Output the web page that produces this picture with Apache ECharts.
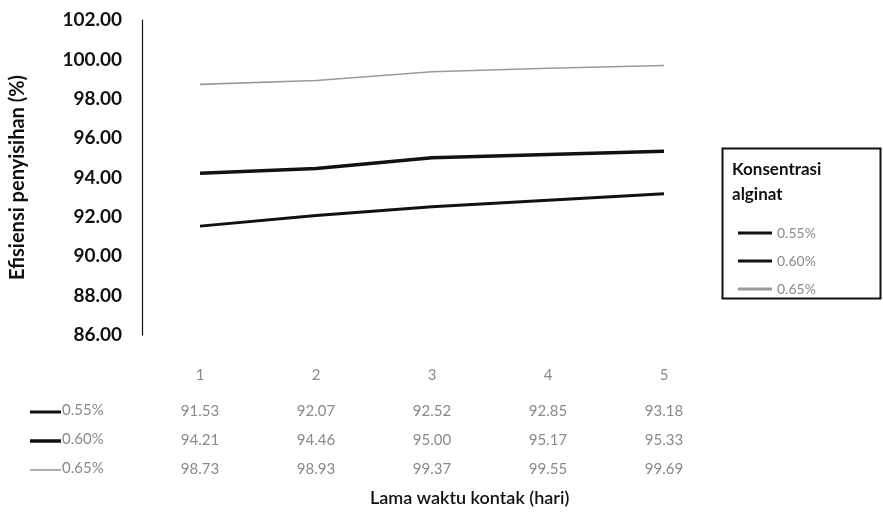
<!DOCTYPE html>
<html>
<head>
<meta charset="utf-8">
<script src="https://cdn.jsdelivr.net/npm/echarts@6/dist/echarts.min.js"></script>
<style>
  html, body { margin: 0; padding: 0; background: #fff; }
  #chart { width: 883px; height: 518px; }
</style>
</head>
<body>
<div id="chart"></div>
<script>
// Contact time (days) and removal efficiency (%) per alginate concentration
const categories = ['1', '2', '3', '4', '5'];
const seriesNames = ['0.55%', '0.60%', '0.65%'];
const eff055 = [91.53, 92.07, 92.52, 92.85, 93.18];
const eff060 = [94.21, 94.46, 95.00, 95.17, 95.33];
const eff065 = [98.73, 98.93, 99.37, 99.55, 99.69];
const yTicks = { min: 86, max: 102, step: 2 };

const FONT = 'Lato, "Open Sans", sans-serif';
const lineStyles = [
  { color: '#111', width: 3 },
  { color: '#111', width: 3.5 },
  { color: '#9a9a9a', width: 1.6 }
];
const valueRows = [eff055, eff060, eff065];

const chart = echarts.init(document.getElementById('chart'));

// data table under the axis: category label followed by one value per series
function tableLabel(cat, idx) {
  let s = '{c|' + cat + '}';
  valueRows.forEach(r => { s += '\n{v|' + r[idx].toFixed(2) + '}'; });
  return s;
}

// row headers of the data table (key line + series name)
const rowY = [412, 441, 470];
const rowHeaders = [];
seriesNames.forEach((n, i) => {
  rowHeaders.push({
    type: 'line', shape: { x1: 30, y1: rowY[i], x2: 61, y2: rowY[i] },
    style: { stroke: lineStyles[i].color, lineWidth: lineStyles[i].width }
  });
  rowHeaders.push({
    type: 'text', left: 62, top: rowY[i] - 9,
    style: { text: n, font: '15px ' + FONT, fill: '#8a8a8a' }
  });
});

chart.setOption({
  animation: false,
  grid: { left: 142, right: 161, top: 20, bottom: 183 },
  xAxis: {
    type: 'category',
    data: categories,
    boundaryGap: true,
    axisLine: { show: false },
    axisTick: { show: false },
    axisLabel: {
      margin: 18,
      formatter: (v, idx) => tableLabel(v, idx),
      rich: {
        c: { fontFamily: FONT, fontSize: 15, color: '#8a8a8a', lineHeight: 44 },
        v: { fontFamily: FONT, fontSize: 15, color: '#8a8a8a', lineHeight: 29 }
      }
    }
  },
  yAxis: {
    type: 'value',
    min: yTicks.min,
    max: yTicks.max,
    interval: yTicks.step,
    axisLine: { show: true, lineStyle: { color: '#111', width: 1.2 } },
    axisTick: { show: false },
    splitLine: { show: false },
    axisLabel: {
      margin: 20,
      formatter: v => v.toFixed(2),
      fontFamily: FONT, fontSize: 19, fontWeight: 'bold', color: '#111'
    },
    name: 'Efisiensi penyisihan (%)',
    nameLocation: 'middle',
    nameGap: 114,
    nameTextStyle: { fontFamily: FONT, fontSize: 20, fontWeight: 'bold', color: '#111' }
  },
  legend: {
    orient: 'vertical',
    left: 733,
    top: 221,
    icon: 'rect',
    itemWidth: 34,
    itemHeight: 3,
    itemGap: 14,
    data: seriesNames,
    textStyle: { fontFamily: FONT, fontSize: 14, color: '#8a8a8a' }
  },
  graphic: [
    {
      type: 'rect', shape: { x: 722.5, y: 148.5, width: 158, height: 150 },
      style: { fill: 'none', stroke: '#111', lineWidth: 2 }
    },
    {
      type: 'text', left: 732, top: 157,
      style: { text: 'Konsentrasi\nalginat', font: 'bold 17px ' + FONT, fill: '#111', lineHeight: 25 }
    },
    {
      type: 'text', left: 370, top: 489,
      style: { text: 'Lama waktu kontak (hari)', font: '600 18px ' + FONT, fill: '#111', align: 'center' }
    }
  ].concat(rowHeaders),
  series: seriesNames.map((n, i) => ({
    name: n,
    type: 'line',
    data: valueRows[i],
    symbol: 'none',
    lineStyle: lineStyles[i],
    itemStyle: { color: lineStyles[i].color }
  }))
});
</script>
</body>
</html>
